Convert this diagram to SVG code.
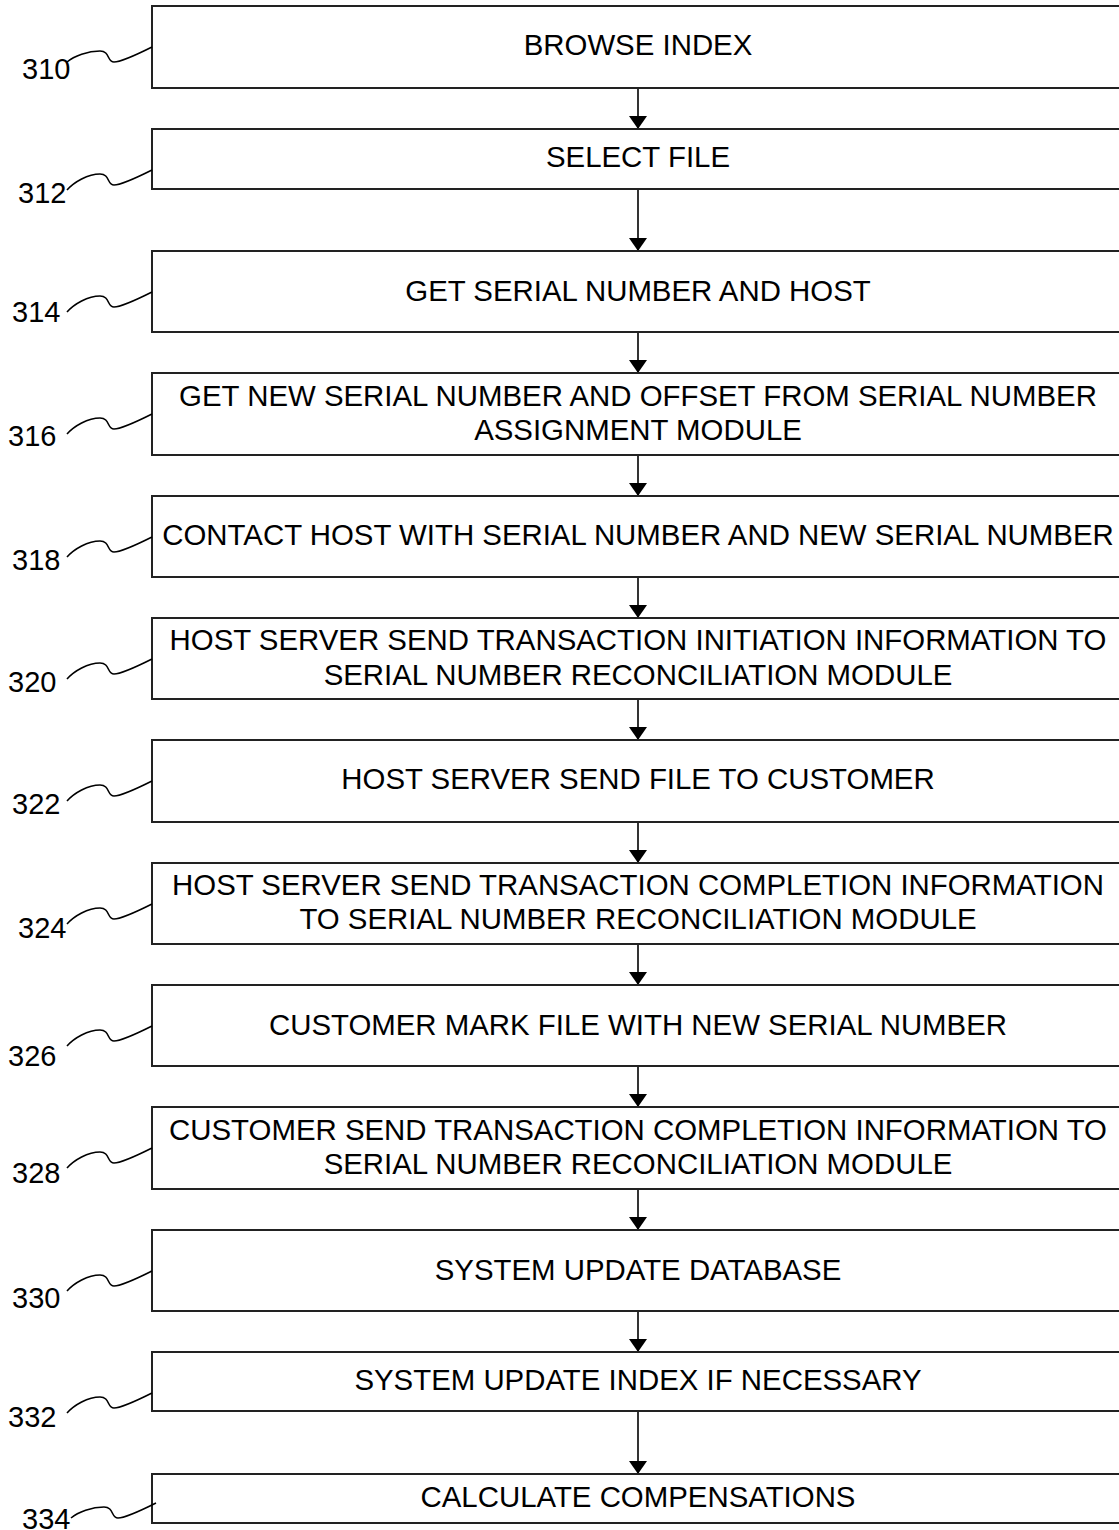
<svg xmlns="http://www.w3.org/2000/svg" width="1119" height="1530" viewBox="0 0 1119 1530">
<style>
.box{fill:#fff;stroke:#222;stroke-width:2}
.t{font-family:"Liberation Sans",Arial,sans-serif;font-size:29.4px;fill:#000;text-anchor:middle}
.n{font-family:"Liberation Sans",Arial,sans-serif;font-size:29px;fill:#000}
.sq{fill:none;stroke:#000;stroke-width:1.6}
.c{stroke:#000;stroke-width:1.6;fill:none}
</style>
<defs>
<marker id="ah" markerUnits="userSpaceOnUse" markerWidth="13" markerHeight="18" refX="13" refY="9" orient="auto" viewBox="0 0 13 18">
<path d="M0,0 L13,9 L0,18 Z" fill="#000"/>
</marker>
<path id="sq" d="M0,0 C-14,7 -30,15 -38,15 C-45,15 -42,4 -52,4 C-64,4 -78,12 -85,20"/>
<path id="sqb" d="M0,0 C-14,7 -30,15 -38,15 C-45,15 -42,4 -52,4 C-64,4 -78,9 -85,15"/>
</defs>
<rect width="1119" height="1530" fill="#fff"/>
<g id="connectors">
<line class="c" x1="638" y1="88" x2="638" y2="129" marker-end="url(#ah)"/>
<line class="c" x1="638" y1="189" x2="638" y2="251" marker-end="url(#ah)"/>
<line class="c" x1="638" y1="332" x2="638" y2="373" marker-end="url(#ah)"/>
<line class="c" x1="638" y1="455" x2="638" y2="496" marker-end="url(#ah)"/>
<line class="c" x1="638" y1="577" x2="638" y2="618" marker-end="url(#ah)"/>
<line class="c" x1="638" y1="699" x2="638" y2="740" marker-end="url(#ah)"/>
<line class="c" x1="638" y1="822" x2="638" y2="863" marker-end="url(#ah)"/>
<line class="c" x1="638" y1="944" x2="638" y2="985" marker-end="url(#ah)"/>
<line class="c" x1="638" y1="1066" x2="638" y2="1107" marker-end="url(#ah)"/>
<line class="c" x1="638" y1="1189" x2="638" y2="1230" marker-end="url(#ah)"/>
<line class="c" x1="638" y1="1311" x2="638" y2="1352" marker-end="url(#ah)"/>
<line class="c" x1="638" y1="1411" x2="638" y2="1474" marker-end="url(#ah)"/>
</g>
<g id="n310">
<rect class="box" x="152" y="6" width="1000" height="82"/>
<text class="t" x="638" y="55">BROWSE INDEX</text>
<use href="#sqb" class="sq" x="152" y="47"/>
<text class="n" x="22" y="79">310</text>
</g>
<g id="n312">
<rect class="box" x="152" y="129" width="1000" height="60"/>
<text class="t" x="638" y="167">SELECT FILE</text>
<use href="#sq" class="sq" x="152" y="170"/>
<text class="n" x="18" y="203">312</text>
</g>
<g id="n314">
<rect class="box" x="152" y="251" width="1000" height="81"/>
<text class="t" x="638" y="301">GET SERIAL NUMBER AND HOST</text>
<use href="#sq" class="sq" x="152" y="292"/>
<text class="n" x="12" y="322">314</text>
</g>
<g id="n316">
<rect class="box" x="152" y="373" width="1000" height="82"/>
<text class="t" x="638" y="406">GET NEW SERIAL NUMBER AND OFFSET FROM SERIAL NUMBER</text>
<text class="t" x="638" y="440">ASSIGNMENT MODULE</text>
<use href="#sq" class="sq" x="152" y="414"/>
<text class="n" x="8" y="446">316</text>
</g>
<g id="n318">
<rect class="box" x="152" y="496" width="1000" height="81"/>
<text class="t" x="638" y="545">CONTACT HOST WITH SERIAL NUMBER AND NEW SERIAL NUMBER</text>
<use href="#sq" class="sq" x="152" y="537"/>
<text class="n" x="12" y="570">318</text>
</g>
<g id="n320">
<rect class="box" x="152" y="618" width="1000" height="81"/>
<text class="t" x="638" y="650">HOST SERVER SEND TRANSACTION INITIATION INFORMATION TO</text>
<text class="t" x="638" y="685">SERIAL NUMBER RECONCILIATION MODULE</text>
<use href="#sq" class="sq" x="152" y="659"/>
<text class="n" x="8" y="692">320</text>
</g>
<g id="n322">
<rect class="box" x="152" y="740" width="1000" height="82"/>
<text class="t" x="638" y="789">HOST SERVER SEND FILE TO CUSTOMER</text>
<use href="#sq" class="sq" x="152" y="781"/>
<text class="n" x="12" y="814">322</text>
</g>
<g id="n324">
<rect class="box" x="152" y="863" width="1000" height="81"/>
<text class="t" x="638" y="895">HOST SERVER SEND TRANSACTION COMPLETION INFORMATION</text>
<text class="t" x="638" y="929">TO SERIAL NUMBER RECONCILIATION MODULE</text>
<use href="#sq" class="sq" x="152" y="904"/>
<text class="n" x="18" y="938">324</text>
</g>
<g id="n326">
<rect class="box" x="152" y="985" width="1000" height="81"/>
<text class="t" x="638" y="1035">CUSTOMER MARK FILE WITH NEW SERIAL NUMBER</text>
<use href="#sq" class="sq" x="152" y="1026"/>
<text class="n" x="8" y="1066">326</text>
</g>
<g id="n328">
<rect class="box" x="152" y="1107" width="1000" height="82"/>
<text class="t" x="638" y="1140">CUSTOMER SEND TRANSACTION COMPLETION INFORMATION TO</text>
<text class="t" x="638" y="1174">SERIAL NUMBER RECONCILIATION MODULE</text>
<use href="#sq" class="sq" x="152" y="1148"/>
<text class="n" x="12" y="1183">328</text>
</g>
<g id="n330">
<rect class="box" x="152" y="1230" width="1000" height="81"/>
<text class="t" x="638" y="1280">SYSTEM UPDATE DATABASE</text>
<use href="#sq" class="sq" x="152" y="1271"/>
<text class="n" x="12" y="1308">330</text>
</g>
<g id="n332">
<rect class="box" x="152" y="1352" width="1000" height="59"/>
<text class="t" x="638" y="1390">SYSTEM UPDATE INDEX IF NECESSARY</text>
<use href="#sq" class="sq" x="152" y="1393"/>
<text class="n" x="8" y="1427">332</text>
</g>
<g id="n334">
<rect class="box" x="152" y="1474" width="1000" height="49"/>
<text class="t" x="638" y="1507">CALCULATE COMPENSATIONS</text>
<use href="#sqb" class="sq" x="156" y="1503"/>
<text class="n" x="22" y="1529">334</text>
</g>
</svg>
